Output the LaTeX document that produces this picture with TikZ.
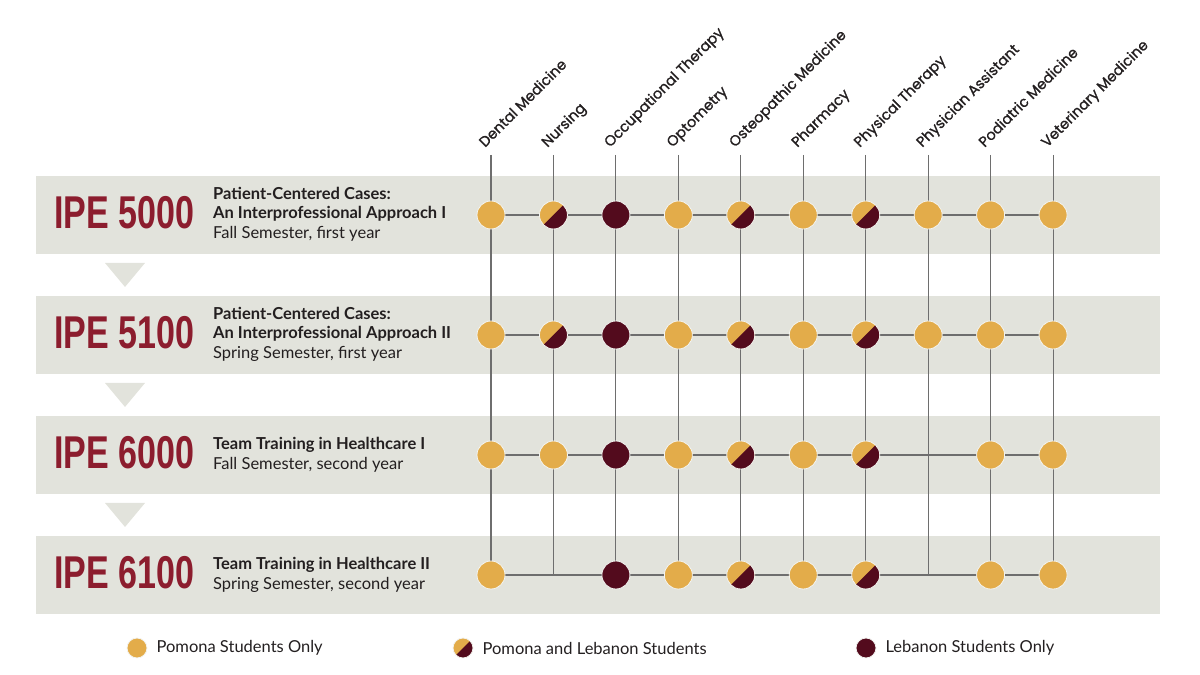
\documentclass[tikz,border=0pt]{standalone}
\usepackage{fontspec}
\setmainfont{Lato}
\newfontfamily\headfont[FakeBold=1.2]{Poppins}
\newfontfamily\ipefont[FakeStretch=0.74]{Liberation Sans}
\usetikzlibrary{positioning, backgrounds}

\definecolor{pomona}{HTML}{E3AC4A}
\definecolor{lebanon}{HTML}{530B1D}
\definecolor{ipered}{HTML}{8C1D2E}
\definecolor{band}{HTML}{E2E3DC}
\definecolor{gridline}{HTML}{6E6E6E}
\definecolor{inktext}{HTML}{231F20}

\begin{document}
\begin{tikzpicture}[x=1pt, y=1pt,
    every node/.style={inner sep=0pt, text=inktext},
    pom/.style={circle, minimum size=28pt, fill=pomona,
                draw=band!40!white, line width=0.8pt},
    leb/.style={pom, fill=lebanon},
    pomleb/.style={pom, path picture={
        \fill[lebanon] (path picture bounding box.south west)
          -- (path picture bounding box.north east)
          -- (path picture bounding box.south east) -- cycle;}},
    gap/.style={coordinate},
    colname/.style={font=\headfont\fontsize{14.5}{16}\selectfont,
                    rotate=45, anchor=base west},
    ipe/.style={font=\ipefont\bfseries\fontsize{46}{46}\selectfont,
                text=ipered, anchor=base west},
    course/.style={font=\fontsize{16.5}{19.5}\selectfont,
                   align=left, anchor=west},
    keytext/.style={font=\fontsize{16.5}{18}\selectfont, anchor=west},
    gridl/.style={draw=gridline, line width=1.1pt}]

  \useasboundingbox (0,0) rectangle (1200,675);

  % Grey bands and the arrows between them
  \begin{pgfonlayer}{background}
    \foreach \y in {460,340,220,100}
      \fill[band] (36,\y-39) rectangle (1160,\y+39);
    \foreach \y in {460,340,220}
      \fill[band] (105,\y-48) -- (145,\y-48) -- (125,\y-72) -- cycle;
  \end{pgfonlayer}

  % Column heads
  \foreach \name [count=\c] in {Dental Medicine, Nursing, Occupational Therapy,
      Optometry, Osteopathic Medicine, Pharmacy, Physical Therapy,
      Physician Assistant, Podiatric Medicine, Veterinary Medicine} {
    \coordinate (top-\c) at ({491+62.45*(\c-1)}, 520);
    \node[colname] (head-\c) at ({485+62.45*(\c-1)}, 527) {\name};
  }

  % Circles, one row per course
  \foreach \r/\y/\kinds in {
      1/460/{pom,pomleb,leb,pom,pomleb,pom,pomleb,pom,pom,pom},
      2/340/{pom,pomleb,leb,pom,pomleb,pom,pomleb,pom,pom,pom},
      3/220/{pom,pom,leb,pom,pomleb,pom,pomleb,gap,pom,pom},
      4/100/{pom,gap,leb,pom,pomleb,pom,pomleb,gap,pom,pom}} {
    \foreach \k [count=\c] in \kinds
      \node[\k] (c-\r-\c) at ({491+62.45*(\c-1)}, \y) {};
  }

  % Grid lines behind the circles
  \begin{pgfonlayer}{background}
    \foreach \r in {1,2,3,4}
      \draw[gridl] (c-\r-1.center) \foreach \c in {2,...,10} { -- (c-\r-\c.center) };
    \foreach \c in {1,...,10}
      \draw[gridl] (top-\c) -- (c-1-\c.center) -- (c-2-\c.center)
                   -- (c-3-\c.center) -- (c-4-\c.center);
  \end{pgfonlayer}

  % Course names
  \node[ipe] (ipe-1) at (54,446) {IPE 5000};
  \node[ipe] (ipe-2) at (54,326) {IPE 5100};
  \node[ipe] (ipe-3) at (54,206) {IPE 6000};
  \node[ipe] (ipe-4) at (54,86)  {IPE 6100};

  \node[course] (crs-1) at (213,461) {\textbf{Patient-Centered Cases:}\\
      \textbf{An Interprofessional Approach I}\\Fall Semester, first year};
  \node[course] (crs-2) at (213,341) {\textbf{Patient-Centered Cases:}\\
      \textbf{An Interprofessional Approach II}\\Spring Semester, first year};
  \node[course] (crs-3) at (213,220) {\textbf{Team Training in Healthcare I}\\
      Fall Semester, second year};
  \node[course] (crs-4) at (213,100) {\textbf{Team Training in Healthcare II}\\
      Spring Semester, second year};

  % Key
  \node[pom, minimum size=20pt] (key-pom) at (137,27) {};
  \node[keytext, right=9pt of key-pom] (txt-pom) {Pomona Students Only};
  \node[pomleb, minimum size=20pt] (key-both) at (463,27) {};
  \node[keytext, right=9pt of key-both] (txt-both) {Pomona and Lebanon Students};
  \node[leb, minimum size=20pt] (key-leb) at (866,27) {};
  \node[keytext, right=9pt of key-leb] (txt-leb) {Lebanon Students Only};

\end{tikzpicture}
\end{document}
